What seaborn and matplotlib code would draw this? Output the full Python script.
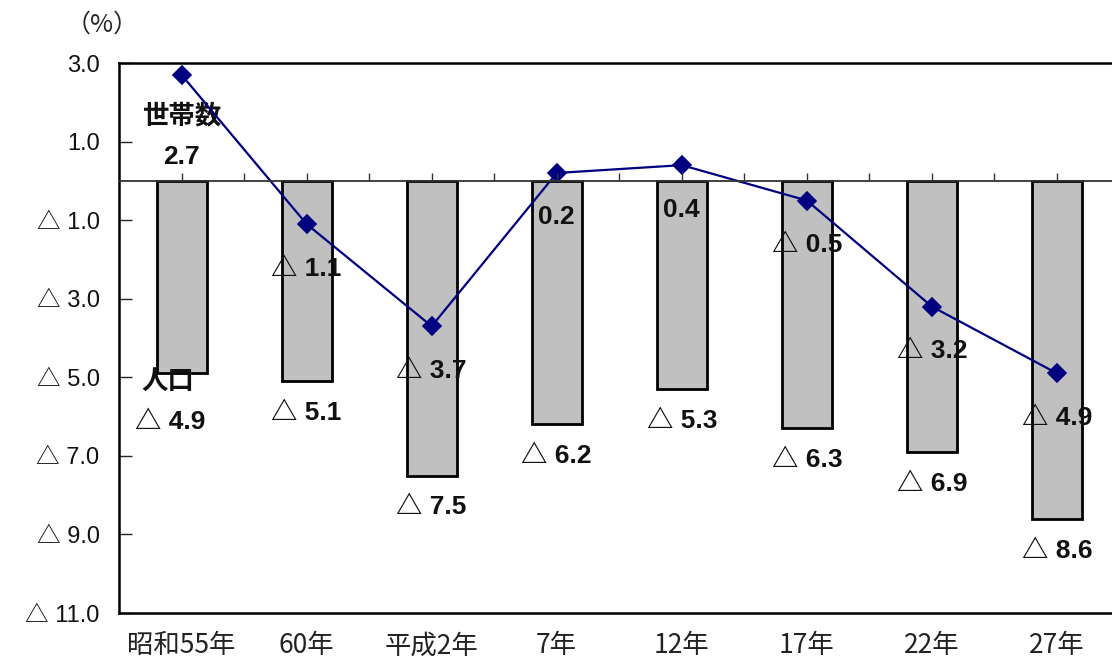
import matplotlib
matplotlib.use('Agg')
import matplotlib.pyplot as plt
import seaborn as sns

# data (percent change), negatives shown with △
years = ['昭和55年', '60年', '平成2年', '7年', '12年', '17年', '22年', '27年']
population = [-4.9, -5.1, -7.5, -6.2, -5.3, -6.3, -6.9, -8.6]
households = [2.7, -1.1, -3.7, 0.2, 0.4, -0.5, -3.2, -4.9]
yticks = [3, 1, -1, -3, -5, -7, -9, -11]

sns.set_style('white')
plt.rcParams['font.family'] = ['Liberation Sans', 'Noto Sans CJK JP', 'DejaVu Sans']
num_font = ['Liberation Sans', 'Noto Sans CJK JP', 'DejaVu Sans']
cjk_font = ['Noto Sans CJK JP', 'DejaVu Sans']


def tri(v):
    # △ marks a minus value
    return f'△ {abs(v):.1f}' if v < 0 else f'{v:.1f}'


fig = plt.figure(figsize=(11.12, 6.62), dpi=100)
ax = fig.add_axes([119 / 1112, 49 / 662, 1000.5 / 1112, 550 / 662])

sns.barplot(x=years, y=population, color='#C0C0C0', saturation=1,
            edgecolor='black', linewidth=2, width=0.4, ax=ax, zorder=2)
sns.pointplot(x=years, y=households, color='#000080', marker='D',
              markersize=9, linewidth=1.6, errorbar=None, ax=ax, zorder=4)

ax.set_xlim(-0.5, 7.5)
ax.set_ylim(-11, 3)
ax.set_yticks(yticks)
ax.set_yticklabels([tri(v) for v in yticks], fontsize=17, family=num_font,
                   color='#111111')
ax.set_xticks(range(len(years)))
ax.set_xticklabels(years, fontsize=19, family=cjk_font, color='#222222')
ax.tick_params(axis='y', direction='in', length=9, width=1, pad=14, left=True)
ax.tick_params(axis='x', length=0, pad=14)
ax.set_xlabel('')
ax.set_ylabel('')

for side in ['left', 'top', 'bottom']:
    ax.spines[side].set_color('black')
    ax.spines[side].set_linewidth(1.8)
ax.spines['right'].set_visible(False)

# zero line with small ticks every half category
ax2 = ax.twiny()
ax2.set_xlim(ax.get_xlim())
for side in ['left', 'top', 'right']:
    ax2.spines[side].set_visible(False)
ax2.spines['bottom'].set_position(('data', 0))
ax2.spines['bottom'].set_color('#333333')
ax2.spines['bottom'].set_linewidth(1.3)
ax2.xaxis.set_ticks_position('bottom')
ax2.set_xticks([i * 0.5 - 0.5 for i in range(1, 16)])
ax2.set_xticklabels([])
ax2.tick_params(axis='x', direction='in', length=6, width=1, color='#333333')
ax2.spines['bottom'].set_zorder(3)

lbl = dict(fontsize=19, fontweight='bold', family=num_font, ha='center',
           va='center', textcoords='offset points', color='#111111')

# population labels below bars
for i, v in enumerate(population):
    dy = -23 if i > 0 else -35
    dx = 0 if i > 0 else -8
    ax.annotate(tri(v), (i, v), xytext=(dx, dy), **lbl)

# household labels below markers
for i, v in enumerate(households):
    dy = -32 if i > 0 else -59
    ax.annotate(tri(v), (i, v), xytext=(0, dy), zorder=5, **lbl)

ax.annotate('世帯数', (0, households[0]), xytext=(0, -30), **lbl)
ax.annotate('人口', (0, population[0]), xytext=(-10, -6), **lbl)

fig.text(102 / 1112, 1 - 25 / 662, '（%）', fontsize=18, family=cjk_font,
         ha='center', va='center')

fig.savefig('out.png', dpi=100)
